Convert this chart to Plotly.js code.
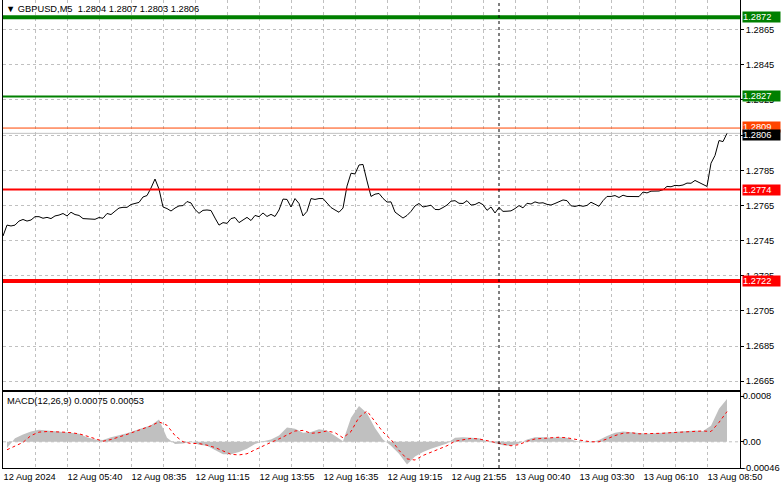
<!DOCTYPE html>
<html><head><meta charset="utf-8">
<script src="https://cdn.plot.ly/plotly-3.0.1.min.js"></script>
<style>html,body{margin:0;padding:0;background:#fff;overflow:hidden}#chart{width:781px;height:489px}</style>
</head><body><div id="chart"></div>
<script>
// ---- data (GBPUSD M5, close every 2 bars) ----
const close = [
1.27476,1.27538,1.27533,1.27538,1.27561,1.27570,1.27561,1.27567,1.27586,1.27586,
1.27577,1.27582,1.27575,1.27590,1.27595,1.27604,1.27590,1.27611,1.27598,1.27593,
1.27575,1.27573,1.27571,1.27571,1.27581,1.27577,1.27604,1.27598,1.27617,1.27635,
1.27639,1.27639,1.27655,1.27661,1.27667,1.27698,1.27706,1.27749,1.27800,1.27743,
1.27641,1.27632,1.27618,1.27635,1.27647,1.27649,1.27672,1.27664,1.27627,1.27605,
1.27622,1.27624,1.27621,1.27578,1.27538,1.27552,1.27548,1.27575,1.27581,1.27552,
1.27567,1.27582,1.27564,1.27593,1.27586,1.27607,1.27587,1.27599,1.27587,1.27624,
1.27686,1.27684,1.27641,1.27689,1.27661,1.27590,1.27616,1.27689,1.27684,1.27689,
1.27689,1.27664,1.27638,1.27624,1.27611,1.27635,1.27760,1.27833,1.27829,1.27880,
1.27883,1.27789,1.27701,1.27714,1.27718,1.27690,1.27669,1.27670,1.27612,1.27595,
1.27578,1.27593,1.27616,1.27647,1.27661,1.27641,1.27644,1.27651,1.27627,1.27626,
1.27638,1.27652,1.27674,1.27677,1.27662,1.27661,1.27677,1.27652,1.27655,1.27667,
1.27654,1.27622,1.27641,1.27607,1.27638,1.27616,1.27617,1.27619,1.27632,1.27649,
1.27636,1.27662,1.27658,1.27670,1.27663,1.27665,1.27656,1.27652,1.27661,1.27669,
1.27681,1.27677,1.27648,1.27644,1.27650,1.27645,1.27650,1.27668,1.27656,1.27645,
1.27677,1.27701,1.27701,1.27706,1.27695,1.27708,1.27701,1.27700,1.27703,1.27700,
1.27726,1.27721,1.27731,1.27730,1.27732,1.27739,1.27758,1.27756,1.27764,1.27762,
1.27766,1.27777,1.27776,1.27792,1.27781,1.27769,1.27758,1.27890,1.27934,1.28019,
1.28013,1.28060];

// MACD(12,26,9), every 4 bars ending at the last bar
const macdHist = [
-0.00011,0.00006,0.00013,0.00018,0.00021,0.00020,0.00018,0.00017,0.00016,0.00014,
0.00008,0.00004,0.00003,0.00008,0.00011,0.00015,0.00020,0.00024,0.00029,0.00039,
0.00007,-0.00004,-0.00003,0.00000,-0.00005,-0.00007,-0.00014,-0.00022,-0.00022,-0.00018,
-0.00012,-0.00004,0.00001,0.00004,0.00011,0.00025,0.00023,0.00016,0.00017,0.00022,
0.00020,0.00010,0.00001,0.00042,0.00063,0.00050,0.00024,0.00004,-0.00007,-0.00021,
-0.00040,-0.00026,-0.00018,-0.00012,-0.00008,-0.00003,0.00007,0.00008,0.00007,0.00006,
0.00001,-0.00003,-0.00006,-0.00007,-0.00003,0.00004,0.00008,0.00008,0.00007,0.00008,
0.00007,0.00002,-0.00001,-0.00001,0.00003,0.00010,0.00016,0.00018,0.00017,0.00015,
0.00014,0.00015,0.00016,0.00018,0.00018,0.00019,0.00020,0.00019,0.00028,0.00058,
0.00075];
const macdSignal = [
-0.00014,-0.00008,-0.00001,0.00011,0.00017,0.00018,0.00018,0.00017,0.00016,0.00014,
0.00010,0.00005,0.00001,0.00004,0.00008,0.00013,0.00018,0.00023,0.00028,0.00035,
0.00029,0.00011,0.00000,-0.00003,-0.00003,-0.00006,-0.00010,-0.00016,-0.00022,-0.00023,
-0.00021,-0.00014,-0.00007,-0.00001,0.00005,0.00012,0.00019,0.00020,0.00015,0.00016,
0.00019,0.00016,0.00007,0.00018,0.00043,0.00054,0.00036,0.00017,0.00004,-0.00015,
-0.00030,-0.00032,-0.00024,-0.00018,-0.00013,-0.00007,0.00001,0.00004,0.00006,0.00005,
0.00002,-0.00002,-0.00004,-0.00007,-0.00005,0.00001,0.00005,0.00006,0.00007,0.00008,
0.00007,0.00004,0.00002,0.00000,0.00000,0.00005,0.00011,0.00015,0.00016,0.00014,
0.00014,0.00014,0.00015,0.00016,0.00017,0.00018,0.00019,0.00019,0.00018,0.00034,
0.00053];

const xTickLabels = ['12 Aug 2024','12 Aug 05:40','12 Aug 08:35','12 Aug 11:15','12 Aug 13:55',
  '12 Aug 16:35','12 Aug 19:15','12 Aug 21:55','13 Aug 00:40','13 Aug 03:30','13 Aug 06:10','13 Aug 08:50'];
const priceTicks = [1.2665,1.2685,1.2705,1.2725,1.2745,1.2765,1.2785,1.2805,1.2825,1.2845,1.2865];
const macdTicks = [-0.00046, 0, 0.0008];
const macdTickText = ['-0.00046','0.00','0.0008'];
const levelValues = [1.2872, 1.2827, 1.2809, 1.2806, 1.2774, 1.2722];
const separatorBar = 248;
const headerText = '\u25BC GBPUSD,M5\u00a0\u00a01.2804 1.2807 1.2803 1.2806';
const macdText = 'MACD(12,26,9) 0.00075 0.00053';

// ---- styles ----
const levelColors = ['#008000','#008000','#ff4500','#c0c0c0','#ff0000','#ff0000'];
const levelWidths = [4,2,1,1,2,4];
const labelBg = ['#008000','#008000','#ff4500','#000000','#ff0000','#ff0000'];
const labelShift = [0,0,1,-2,0,0];
const FONT = 'Liberation Sans, Arial, DejaVu Sans, sans-serif';
const FS = 9.3;
const GRID = '#c0c0c0';

const priceBars = close.map((_, i) => i * 2);
const lastBar = priceBars[priceBars.length - 1];
const macdBars = macdHist.map((_, i) => lastBar - 4 * (macdHist.length - 1 - i));
const gridBars = [];
for (let b = 0; b <= 352; b += 16) gridBars.push(b);
const gridText = gridBars.map(b => (b % 32 === 0 ? xTickLabels[b / 32] : ''));

const traces = [
  {x: priceBars, y: close, type: 'scatter', mode: 'lines', line: {color: '#000', width: 1},
   xaxis: 'x', yaxis: 'y', hoverinfo: 'skip'},
  {x: macdBars, y: macdHist, type: 'scatter', mode: 'lines', fill: 'tozeroy', fillcolor: '#c0c0c0',
   line: {color: '#c0c0c0', width: 0}, xaxis: 'x2', yaxis: 'y2', hoverinfo: 'skip'},
  {x: macdBars, y: macdSignal, type: 'scatter', mode: 'lines', line: {color: '#ff0000', width: 1, dash: 'dot'},
   xaxis: 'x2', yaxis: 'y2', hoverinfo: 'skip'}
];

const shapes = [];
levelValues.forEach((v, i) => {
  shapes.push({type: 'line', xref: 'x domain', x0: 0, x1: 1, yref: 'y', y0: v, y1: v,
    line: {color: levelColors[i], width: levelWidths[i]}, layer: i === 3 ? 'below' : 'above'});
});
shapes.push({type: 'line', xref: 'x', x0: separatorBar, x1: separatorBar, yref: 'paper', y0: 0, y1: 1,
  line: {color: '#000', width: 1, dash: 'dot'}, layer: 'above'});
shapes.push({type: 'line', xref: 'x2 domain', x0: 0, x1: 1, yref: 'y2', y0: 0, y1: 0,
  line: {color: GRID, width: 1, dash: 'dot'}, layer: 'below'});

const annotations = [
  {xref: 'paper', x: 0, xanchor: 'left', xshift: 1, yref: 'paper', y: 1, yanchor: 'top', yshift: -2,
   text: headerText, showarrow: false, font: {family: FONT, size: FS, color: '#000'}},
  {xref: 'x2 domain', x: 0, xanchor: 'left', xshift: 2, yref: 'y2 domain', y: 1, yanchor: 'top', yshift: -2,
   text: macdText, showarrow: false, font: {family: FONT, size: FS, color: '#000'}}
];
levelValues.forEach((v, i) => {
  annotations.push({xref: 'paper', x: 1, xanchor: 'left', xshift: 2, yref: 'y', y: v, yanchor: 'middle',
    yshift: labelShift[i], text: v.toFixed(4), showarrow: false, bgcolor: labelBg[i], borderpad: 0,
    width: 37, height: 10, align: 'left', font: {family: FONT, size: FS, color: '#fff'}});
});

const layout = {
  width: 781, height: 489, paper_bgcolor: '#fff', plot_bgcolor: '#fff',
  margin: {l: 3, r: 41, t: 0, b: 21}, showlegend: false,
  font: {family: FONT, size: FS, color: '#000'},
  xaxis: {domain: [0, 1], anchor: 'y', range: [0, 368.5], tickmode: 'array', tickvals: gridBars,
    ticktext: gridText, showticklabels: false, ticks: '', showgrid: true, gridcolor: GRID, griddash: 'dot',
    gridwidth: 1, zeroline: false, showline: true, linecolor: '#000', linewidth: 1, mirror: false},
  yaxis: {domain: [0.16667, 1], anchor: 'x', side: 'right', range: [1.2660, 1.288184], tickmode: 'array',
    tickvals: priceTicks, ticktext: priceTicks.map(v => v.toFixed(4)), ticks: 'outside', ticklen: 3,
    tickcolor: '#000', showgrid: true, gridcolor: GRID, griddash: 'dot', zeroline: false,
    showline: true, linecolor: '#000', linewidth: 1, mirror: true, tickfont: {family: FONT, size: FS}},
  xaxis2: {domain: [0, 1], anchor: 'y2', matches: 'x', range: [0, 368.5], tickmode: 'array', tickvals: gridBars,
    ticktext: gridText, tickangle: 0, ticklabelposition: 'outside right', ticks: '', showgrid: true,
    gridcolor: GRID, griddash: 'dot', zeroline: false, showline: true, linecolor: '#000', linewidth: 1,
    mirror: true, tickfont: {family: FONT, size: FS}},
  yaxis2: {domain: [0, 0.16239], anchor: 'x2', side: 'right', range: [-0.00046, 0.000874], tickmode: 'array',
    tickvals: macdTicks, ticktext: macdTickText, ticks: 'outside', ticklen: 3, tickcolor: '#000',
    ticklabelstandoff: -3, showgrid: false, zeroline: false, showline: true, linecolor: '#000',
    linewidth: 1, mirror: true, tickfont: {family: FONT, size: FS}},
  shapes: shapes, annotations: annotations
};

Plotly.newPlot('chart', traces, layout, {displayModeBar: false, staticPlot: true});
</script></body></html>
